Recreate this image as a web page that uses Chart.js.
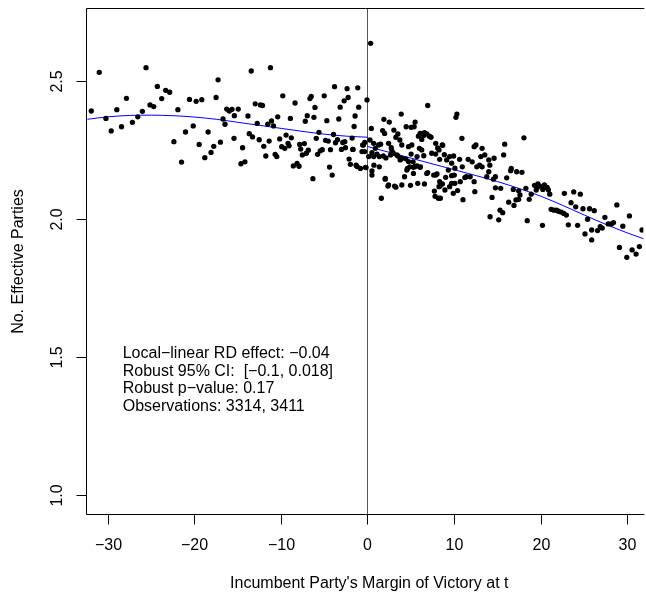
<!DOCTYPE html>
<html>
<head>
<meta charset="utf-8">
<script src="https://cdn.jsdelivr.net/npm/chart.js@4.4.0/dist/chart.umd.min.js"></script>
<style>
html, body { margin: 0; padding: 0; background: #fff; overflow: hidden; }
canvas { display: block; }
</style>
</head>
<body>
<canvas id="rdChart" width="646" height="596"></canvas>
<script>
// binned means, left of the cutoff [margin, no. effective parties]
const leftPoints = [
  [-31.03,2.534],[-25.63,2.551],[-31.95,2.394],[-30.26,2.367],[-29.0,2.399],[-27.89,2.440],[-29.65,2.322],[-28.46,2.337],
  [-27.2,2.353],[-26.58,2.373],[-26.05,2.393],[-25.17,2.416],[-24.74,2.410],[-24.32,2.483],[-23.82,2.439],[-23.36,2.469],
  [-22.9,2.462],[-21.95,2.399],[-22.41,2.283],[-21.53,2.209],[-21.07,2.318],[-20.61,2.436],[-20.18,2.340],[-19.84,2.429],
  [-19.19,2.435],[-19.49,2.273],[-18.84,2.225],[-18.46,2.318],[-18.12,2.244],[-17.81,2.266],[-17.54,2.443],[-17.31,2.507],
  [-17.04,2.281],[-16.74,2.365],[-16.51,2.346],[-16.31,2.401],[-16.01,2.394],[-15.70,2.400],[-15.43,2.377],[-15.47,2.295],
  [-13.48,2.539],[-11.26,2.551],[-14.98,2.401],[-13.86,2.376],[-13.02,2.420],[-12.41,2.416],[-12.18,2.414],[-14.48,2.261],
  [-14.67,2.203],[-14.21,2.210],[-13.71,2.312],[-13.33,2.300],[-12.79,2.349],[-12.56,2.290],[-12.03,2.266],[-11.80,2.231],
  [-11.57,2.346],[-11.41,2.285],[-11.14,2.358],[-10.91,2.340],[-10.72,2.237],[-10.53,2.229],[-10.42,2.373],[-10.19,2.293],
  [-9.96,2.265],[-9.84,2.449],[-9.61,2.259],[-9.46,2.307],[-9.23,2.277],[-9.11,2.268],[-8.96,2.367],[-8.85,2.297],
  [-8.62,2.195],[-8.42,2.423],[-8.19,2.204],[-7.96,2.194],[-7.89,2.273],[-7.77,2.256],[-7.58,2.235],[-7.35,2.276],
  [-7.24,2.357],[-7.12,2.241],[-7.01,2.377],[-6.89,2.252],[-6.70,2.439],[-6.55,2.447],[-6.36,2.149],[-6.24,2.371],
  [-6.12,2.407],[-5.97,2.295],[-5.82,2.237],[-5.66,2.317],[-5.51,2.250],[-5.28,2.254],[-5.05,2.449],[-4.90,2.288],
  [-4.75,2.359],[-4.59,2.285],[-4.44,2.191],[-4.33,2.254],[-4.13,2.162],[-3.98,2.309],[-3.86,2.482],[-3.75,2.279],
  [-3.52,2.290],[-3.37,2.365],[-3.21,2.408],[-3.06,2.255],[-2.91,2.280],[-2.75,2.431],[-2.60,2.261],[-2.41,2.475],
  [-2.29,2.443],[-2.18,2.220],[-2.03,2.201],[-1.83,2.296],[-1.72,2.255],[-1.60,2.338],[-1.49,2.376],[-1.37,2.198],
  [-1.18,2.478],[-1.07,2.408],[-0.88,2.186],[-0.69,2.247],[-0.53,2.271],[-0.38,2.280],[-0.22,2.189],[-0.11,2.434],
  [-1.26,2.193],[-0.61,2.271],[-0.38,2.247],[-0.30,2.190],[-2.68,2.283],[-1.76,2.255]
];

// binned means, right of the cutoff
const rightPoints = [
  [0.31,2.639],[0.39,2.331],[0.23,2.289],[0.66,2.277],[1.46,2.274],[1.69,2.323],[1.84,2.364],[1.92,2.313],
  [2.46,2.354],[2.38,2.277],[2.69,2.261],[2.99,2.325],[3.22,2.299],[3.45,2.311],[3.68,2.289],[3.84,2.383],
  [3.91,2.271],[4.41,2.337],[4.68,2.265],[4.98,2.335],[5.06,2.271],[5.44,2.354],[5.33,2.337],[5.83,2.303],
  [5.94,2.259],[6.21,2.311],[6.48,2.306],[6.79,2.311],[6.90,2.414],[7.09,2.303],[7.28,2.299],[7.82,2.277],
  [8.05,2.260],[8.63,2.270],[10.27,2.383],[10.16,2.371],[10.85,2.295],[12.26,2.265],[12.46,2.271],[13.18,2.259],
  [13.49,2.235],[14.56,2.223],
  [0.66,2.229],[1.04,2.238],[1.31,2.229],[1.77,2.231],[2.07,2.224],[2.61,2.235],[2.92,2.241],[3.45,2.231],
  [3.91,2.223],[4.37,2.221],[4.98,2.238],[5.21,2.210],[5.67,2.229],[6.21,2.253],[6.44,2.232],[7.36,2.241],
  [8.28,2.219],[8.82,2.236],[9.43,2.229],[9.89,2.231],[10.58,2.219],[11.57,2.219],[12.03,2.210],[13.03,2.229],
  [13.95,2.217],[14.07,2.198],
  [0.69,2.198],[0.46,2.177],[0.46,2.162],[1.31,2.192],[2.00,2.150],[2.38,2.126],[3.07,2.122],[3.91,2.126],
  [4.22,2.156],[4.56,2.186],[4.83,2.192],[5.25,2.190],[5.67,2.195],[6.06,2.192],[4.91,2.125],[5.75,2.132],
  [6.52,2.130],[6.90,2.171],[7.59,2.162],[7.97,2.166],[7.67,2.104],[8.28,2.138],[8.20,2.120],[8.36,2.078],
  [8.59,2.130],[8.97,2.154],[9.28,2.180],[9.43,2.120],[9.66,2.160],[9.97,2.162],[10.04,2.132],[10.35,2.106],
  [10.66,2.138],[10.89,2.192],[11.19,2.153],[11.34,2.156],[11.80,2.156],[12.26,2.138],[12.57,2.192],[12.34,2.102],
  [12.88,2.198],[13.18,2.192],[13.72,2.156],[13.95,2.174],[14.49,2.147],[14.72,2.156],[14.72,2.116],[1.54,2.078],
  [8.13,2.078],[10.97,2.073],[7.75,2.085],
  [1.23,2.271],[0.85,2.259],[0.46,2.243],[0.08,2.229],[2.76,2.250],[3.34,2.235],[3.72,2.217],[4.68,2.211],
  [5.44,2.193],[6.02,2.190],[5.25,2.168],[4.49,2.180],[1.99,2.147],[2.30,2.122],[3.22,2.118],[6.79,2.168],
  [7.82,2.162],[8.32,2.122],[8.89,2.108],[9.66,2.132],[9.85,2.096],[7.82,2.238],[8.20,2.253],[9.09,2.217],
  [9.66,2.205],[10.04,2.187],[6.02,2.313],[6.52,2.316],[6.21,2.291],[8.58,2.271],
  [18.01,2.297],[15.79,2.274],[15.67,2.235],[16.02,2.152],[16.55,2.186],[16.48,2.178],[17.17,2.174],[17.78,2.172],
  [15.33,2.114],[14.33,2.081],[15.25,2.035],[15.56,2.026],[15.10,2.000],[14.10,2.011],[16.25,2.064],[16.86,2.052],
  [17.09,2.072],[17.40,2.074],[17.55,2.090],[16.78,2.110],[17.40,2.105],[18.24,2.114],[18.39,1.997],[18.62,2.074],
  [18.85,2.093],[19.23,2.125],[19.54,2.117],[19.43,2.108],[19.62,2.130],[19.85,2.122],[20.19,2.110],[20.38,2.126],
  [20.69,2.117],[20.84,2.108],[20.99,2.093],[20.15,1.980],[21.15,2.038],[21.46,2.035],[21.76,2.035],[21.99,2.031],
  [22.30,2.028],[22.61,2.023],[22.91,2.017],[22.68,2.096],[23.45,2.062],[23.76,2.101],[24.52,2.093],[23.99,2.047],
  [23.14,1.982],[24.21,1.980],[24.83,2.040],[25.36,2.002],[25.59,2.040],[26.13,2.033],[25.83,1.963],[25.06,1.949],
  [25.83,1.927],[26.51,1.961],[26.82,1.975],[27.05,1.970],[27.36,2.009],[27.74,1.985],[28.12,1.985],[28.35,1.990],
  [28.74,2.054],[29.43,1.977],[30.19,2.014],[29.04,1.900],[29.89,1.864],[30.50,1.891],[30.96,1.876],[31.34,1.903],
  [31.65,1.963]
];

// polynomial fits either side of the cutoff
const fitLeftX = [-32.4, -30, -27.5, -25, -22.5, -20, -17.5, -15, -12.5, -10, -7.5, -5, -2.5, 0];
const fitLeftY = [2.364, 2.373, 2.378, 2.379, 2.377, 2.372, 2.364, 2.353, 2.342, 2.331, 2.320, 2.310, 2.303, 2.299];
const fitRightX = [0, 2.5, 5, 7.5, 10, 12.5, 15, 17.5, 20, 22.5, 25, 27.5, 30, 32.4];
const fitRightY = [2.265, 2.244, 2.223, 2.202, 2.181, 2.160, 2.138, 2.113, 2.085, 2.052, 2.017, 1.983, 1.952, 1.925];

const xTicks = [-30, -20, -10, 0, 10, 20, 30];
const yTicks = [1.0, 1.5, 2.0, 2.5];
const cutoff = 0;

const xTitle = "Incumbent Party's Margin of Victory at t";
const yTitle = "No. Effective Parties";
const statLines = [
  "Local\u2212linear RD effect: \u22120.04",
  "Robust 95% CI:  [\u22120.1, 0.018]",
  "Robust p\u2212value: 0.17",
  "Observations: 3314, 3411"
];

const FONT = '16px "Liberation Sans", Arial, Helvetica, sans-serif';

function fmt(v, digits) {
  const s = digits ? Math.abs(v).toFixed(digits) : String(Math.abs(v));
  return v < 0 ? "\u2212" + s : s;
}

function toXY(pairs) {
  return pairs.map(p => ({ x: p[0], y: p[1] }));
}

function zipXY(xs, ys) {
  return xs.map((x, i) => ({ x: x, y: ys[i] }));
}

// R-style frame, ticks, labels and the cutoff line
const rFrame = {
  id: "rFrame",
  beforeDatasetsDraw(chart) {
    const ctx = chart.ctx, a = chart.chartArea, xs = chart.scales.x;
    const cx = Math.floor(xs.getPixelForValue(cutoff)) + 0.5;
    ctx.save();
    ctx.strokeStyle = "#555";
    ctx.lineWidth = 1;
    ctx.beginPath();
    ctx.moveTo(cx, a.top);
    ctx.lineTo(cx, a.bottom);
    ctx.stroke();
    ctx.restore();
  },
  afterDraw(chart) {
    const ctx = chart.ctx, a = chart.chartArea;
    const xs = chart.scales.x, ys = chart.scales.y;
    const L = Math.floor(a.left) + 0.5, T = Math.floor(a.top) + 0.5, B = Math.floor(a.bottom) + 0.5;
    ctx.save();
    ctx.strokeStyle = "#000";
    ctx.lineWidth = 1;
    ctx.beginPath();
    ctx.moveTo(a.right + 1, T);
    ctx.lineTo(L, T);
    ctx.lineTo(L, B);
    ctx.lineTo(a.right + 1, B);
    ctx.stroke();

    ctx.fillStyle = "#000";
    ctx.font = FONT;

    // x axis
    ctx.textAlign = "center";
    ctx.textBaseline = "middle";
    xTicks.forEach(v => {
      const px = Math.floor(xs.getPixelForValue(v)) + 0.5;
      ctx.beginPath();
      ctx.moveTo(px, B);
      ctx.lineTo(px, B + 10);
      ctx.stroke();
      ctx.fillText(fmt(v), px, B + 31);
    });
    ctx.fillText(xTitle, (a.left + 651.9) / 2, 584);

    // y axis
    yTicks.forEach(v => {
      const py = Math.floor(ys.getPixelForValue(v)) + 0.5;
      ctx.beginPath();
      ctx.moveTo(L - 10, py);
      ctx.lineTo(L, py);
      ctx.stroke();
      ctx.save();
      ctx.translate(57.3, py);
      ctx.rotate(-Math.PI / 2);
      ctx.fillText(fmt(v, 1), 0, 0);
      ctx.restore();
    });
    ctx.save();
    ctx.translate(18.5, (a.top + a.bottom) / 2);
    ctx.rotate(-Math.PI / 2);
    ctx.fillText(yTitle, 0, 0);
    ctx.restore();

    // estimate box
    ctx.textAlign = "left";
    ctx.textBaseline = "alphabetic";
    statLines.forEach((line, i) => {
      ctx.fillText(line, 122.7, 358 + i * 17.5);
    });
    ctx.restore();
  }
};

const dotStyle = {
  pointRadius: 2.65,
  pointHoverRadius: 2.65,
  pointBackgroundColor: "#000",
  pointBorderWidth: 0,
  showLine: false
};
const fitStyle = {
  type: "line",
  borderColor: "#0000ff",
  borderWidth: 1,
  pointRadius: 0,
  fill: false,
  cubicInterpolationMode: "monotone"
};

new Chart(document.getElementById("rdChart"), {
  type: "scatter",
  data: {
    datasets: [
      Object.assign({ label: "left", data: toXY(leftPoints) }, dotStyle),
      Object.assign({ label: "right", data: toXY(rightPoints) }, dotStyle),
      Object.assign({ label: "fit left", data: zipXY(fitLeftX, fitLeftY) }, fitStyle),
      Object.assign({ label: "fit right", data: zipXY(fitRightX, fitRightY) }, fitStyle)
    ]
  },
  options: {
    responsive: false,
    animation: false,
    events: [],
    layout: { padding: { left: 86.7, top: 8.3, right: 0, bottom: 81.3 } },
    plugins: { legend: { display: false }, tooltip: { enabled: false } },
    scales: {
      x: { type: "linear", display: false, min: -32.48, max: 31.8 },
      y: { type: "linear", display: false, min: 0.932, max: 2.766 }
    }
  },
  plugins: [rFrame]
});
</script>
</body>
</html>
